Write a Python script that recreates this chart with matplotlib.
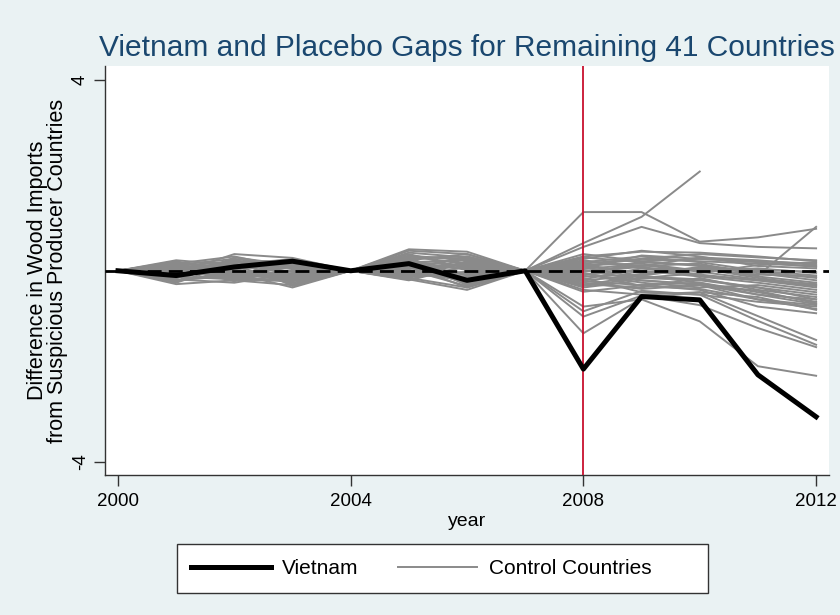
import numpy as np
import matplotlib
matplotlib.use("Agg")
import matplotlib.pyplot as plt
from matplotlib.lines import Line2D
from matplotlib.patches import Rectangle

plt.rcParams['font.family'] = ['Liberation Sans', 'DejaVu Sans']
plt.rcParams['axes.unicode_minus'] = False

years = [2000, 2001, 2002, 2003, 2004, 2005, 2006, 2007, 2008, 2009, 2010, 2011, 2012]
vietnam_gap = [0.0, -0.10, 0.08, 0.20, 0.0, 0.15, -0.20, 0.0, -2.06, -0.54, -0.61, -2.18, -3.06]

nan = np.nan
control_gaps = [
    [0, 0.10, 0.20, -0.10, 0, 0.30, 0.15, 0, 0.58, 1.13, 2.08, nan, nan],
    [0, -0.05, 0.05, 0.12, 0, 0.10, -0.20, 0, 1.23, 1.23, 0.61, 0.70, 0.88],
    [0, 0.15, 0.30, 0.05, 0, 0.42, 0.35, 0, 0.50, 0.92, 0.58, 0.50, 0.47],
    [0, -0.20, -0.10, 0.20, 0, -0.05, 0.25, 0, 0.20, 0.10, 0.15, -0.10, 0.92],
    [0, -0.28, -0.20, -0.30, 0, -0.15, -0.35, 0, -0.75, -0.60, -1.06, -2.00, -2.20],
    [0, 0.05, -0.15, -0.20, 0, 0.20, -0.10, 0, -0.96, -0.52, -0.72, -1.20, -1.60],
    [0, -0.10, 0.10, 0.25, 0, 0.05, 0.30, 0, -1.31, -0.58, -0.45, -0.95, -1.45],
    [0, 0.20, -0.05, -0.35, 0, -0.18, -0.40, 0, -0.85, -0.42, -0.50, -1.05, -1.55],
    [0, -0.15, 0.25, 0.10, 0, 0.35, 0.05, 0, 0.30, 0.40, 0.38, 0.30, 0.20],
    [0, 0.08, -0.22, 0.18, 0, 0.25, -0.30, 0, -0.44, -0.30, -0.40, -0.75, -0.89],
    [0, -0.25, 0.15, -0.15, 0, -0.10, 0.20, 0, 0.25, 0.42, 0.30, 0.10, 0.05],
    [0, 0.18, 0.02, -0.25, 0, 0.15, -0.15, 0, -0.35, -0.20, -0.30, -0.60, -0.80],
    [0, -0.05, 0.35, 0.27, 0, 0.45, 0.40, 0, 0.15, 0.25, 0.20, 0.15, 0.10],
    [0, 0.12, -0.08, 0.08, 0, -0.20, 0.10, 0, -0.20, -0.10, -0.25, -0.50, -0.70],
    [0, -0.18, -0.25, -0.05, 0, 0.08, -0.25, 0, 0.10, -0.05, 0.05, -0.15, -0.30],
    [0, 0.22, 0.12, 0.15, 0, 0.30, 0.25, 0, -0.10, 0.20, 0.10, -0.05, -0.20],
    [0, -0.08, 0.05, -0.28, 0, -0.12, -0.05, 0, -0.28, -0.35, -0.15, -0.40, -0.55],
    [0, 0.02, 0.18, 0.22, 0, 0.18, 0.12, 0, 0.05, 0.32, 0.25, 0.20, 0.15],
    [0, -0.12, -0.18, 0.00, 0, 0.02, -0.32, 0, -0.05, -0.25, -0.35, -0.30, -0.45],
    [0, 0.15, 0.08, -0.18, 0, 0.38, 0.28, 0, 0.22, 0.05, -0.10, -0.20, -0.35],
    [0, -0.22, 0.28, 0.12, 0, -0.02, -0.18, 0, -0.15, -0.45, -0.50, -0.65, -0.75],
    [0, 0.05, -0.12, -0.08, 0, 0.22, 0.35, 0, 0.12, 0.15, 0.00, 0.05, -0.05],
    [0, -0.02, 0.22, 0.05, 0, 0.12, -0.08, 0, -0.32, -0.15, -0.20, -0.35, -0.60],
    [0, 0.18, -0.02, -0.12, 0, -0.15, 0.18, 0, 0.00, 0.10, 0.28, 0.22, 0.12],
    [0, -0.15, 0.12, 0.18, 0, 0.28, -0.22, 0, -0.22, -0.30, -0.25, -0.45, -0.65],
    [0, 0.10, -0.18, -0.22, 0, 0.05, 0.08, 0, 0.18, 0.30, 0.18, 0.00, -0.10],
    [0, -0.10, 0.08, 0.20, 0, -0.08, -0.12, 0, -0.08, 0.00, -0.12, -0.25, -0.40],
    [0, 0.05, 0.15, -0.02, 0, 0.32, 0.22, 0, 0.08, -0.15, -0.05, 0.12, 0.18],
    [0, -0.20, -0.05, 0.08, 0, 0.15, -0.28, 0, -0.40, -0.50, -0.45, -0.55, -0.82],
    [0, 0.12, 0.25, -0.32, 0, -0.02, 0.15, 0, 0.28, 0.18, 0.12, -0.02, -0.15],
    [0, -0.05, -0.08, 0.15, 0, 0.20, 0.02, 0, -0.12, -0.08, 0.08, -0.12, -0.25],
    [0, 0.08, 0.02, -0.15, 0, 0.10, -0.35, 0, -0.25, -0.38, -0.30, -0.50, -0.60],
    [0, -0.12, 0.20, 0.10, 0, 0.26, 0.30, 0, 0.35, 0.20, 0.25, 0.18, 0.08],
    [0, 0.16, -0.15, 0.02, 0, -0.12, -0.02, 0, -0.02, 0.08, -0.08, -0.20, -0.32],
    [0, -0.22, 0.00, -0.20, 0, 0.08, 0.12, 0, 0.15, -0.12, -0.18, -0.35, -0.50],
    [0, 0.00, 0.10, 0.15, 0, -0.05, -0.20, 0, -0.18, 0.05, 0.02, -0.08, -0.12],
    [0, 0.08, -0.20, -0.10, 0, 0.18, 0.22, 0, 0.02, -0.20, -0.28, -0.42, -0.68],
    [0, -0.15, 0.18, 0.22, 0, 0.00, -0.15, 0, -0.30, -0.10, 0.05, 0.02, -0.02],
    [0, 0.10, -0.10, -0.05, 0, 0.12, 0.05, 0, 0.10, 0.25, 0.35, 0.28, 0.22],
    [0, -0.08, 0.05, 0.10, 0, -0.18, 0.10, 0, -0.05, -0.32, -0.38, -0.60, -0.72],
    [0, 0.05, -0.05, -0.18, 0, 0.05, -0.05, 0, 0.05, 0.12, -0.02, -0.18, -0.28],
]

x_ticks = [2000, 2004, 2008, 2012]
y_ticks = [-4, 4]
treatment_year = 2008

title = "Vietnam and Placebo Gaps for Remaining 41 Countries"
y_label = "Difference in Wood Imports\nfrom Suspicious Producer Countries"
x_label = "year"
legend_labels = ["Vietnam", "Control Countries"]

bg = "#EAF2F3"
gray = "#8A8A8A"

fig = plt.figure(figsize=(8.4, 6.15), dpi=100, facecolor=bg)
ax = fig.add_axes([0.125, 0.2276, 0.862, 0.665])
ax.set_facecolor("white")

for row in control_gaps:
    ax.plot(years, row, color=gray, lw=1.4, zorder=2)
ax.axhline(0, color="black", lw=2.0, ls=(0, (5.0, 2.6)), zorder=3)
ax.axvline(treatment_year, color="#C8102E", lw=1.3, zorder=4)
ax.plot(years, vietnam_gap, color="black", lw=3.6, zorder=5)

ax.set_xlim(1999.777, 2012.223)
ax.set_ylim(-4.28, 4.29)
ax.set_xticks(x_ticks)
ax.set_yticks(y_ticks)
ax.tick_params(axis="both", direction="out", length=8, width=1, color="#333333",
               labelsize=13.5, labelcolor="black")
ax.tick_params(axis="x", pad=5)
for lab in ax.get_yticklabels():
    lab.set_rotation(90)
    lab.set_va("center")
for s in ["top", "right"]:
    ax.spines[s].set_visible(False)
for s in ["left", "bottom"]:
    ax.spines[s].set_color("#333333")
    ax.spines[s].set_linewidth(1.0)

ax.set_xlabel(x_label, fontsize=14, labelpad=2)
ax.set_ylabel(y_label, fontsize=15.5, labelpad=3, linespacing=0.95)
ax.set_title(title, fontsize=21.5, color="#1A476F", pad=7)

# legend box
fig.patches.append(Rectangle((177 / 840, 1 - 593 / 615), (708 - 177) / 840, (593 - 544) / 615,
                             transform=fig.transFigure, facecolor="white", edgecolor="#333333",
                             lw=1.0, zorder=1))
handles = [Line2D([], [], color="black", lw=3.6), Line2D([], [], color=gray, lw=1.4)]
leg = fig.legend(handles, legend_labels, loc="center left",
                 bbox_to_anchor=(181 / 840, 1 - 569 / 615),
                 ncol=2, fontsize=15, frameon=False,
                 handlelength=3.8, columnspacing=1.9, handletextpad=0.55, borderpad=0.0)

fig.savefig("out.png", dpi=100, facecolor=bg)
